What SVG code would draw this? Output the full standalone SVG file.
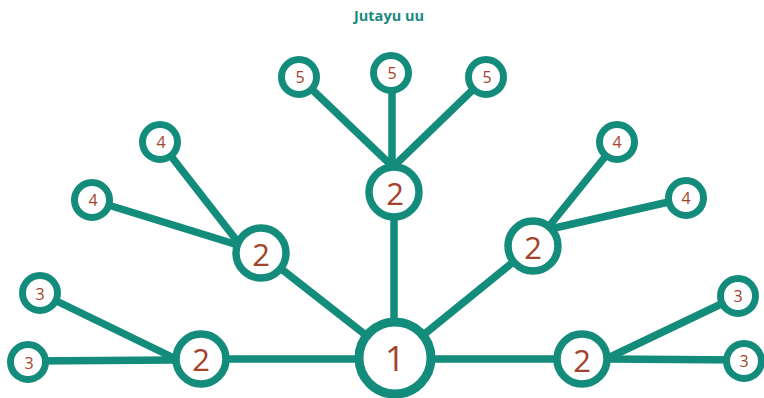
<svg xmlns="http://www.w3.org/2000/svg" width="764" height="398" viewBox="0 0 764 398">
<style>
.e{stroke:#138c7c;stroke-width:7.5;stroke-linecap:round;fill:none}
.n{fill:#fff;stroke:#138c7c}
.s{stroke-width:7}
.m{stroke-width:7.5}
.b{stroke-width:9}
.t{font-family:"Open Sans","Noto Sans",sans-serif;fill:#a4432b;text-anchor:middle;dominant-baseline:central}
.title{font-family:"Open Sans","Noto Sans",sans-serif;font-weight:bold;font-size:14.5px;fill:#1a8a80;text-anchor:middle}
</style>
<rect width="764" height="398" fill="#fff"/>
<text class="title" x="389" y="21">Jutayu uu</text>
<g id="connectors">
<line class="e" x1="395" y1="359" x2="201" y2="359"/>
<line class="e" x1="395" y1="359" x2="582" y2="359"/>
<line class="e" x1="395" y1="358" x2="261" y2="253"/>
<line class="e" x1="394" y1="358" x2="394" y2="192"/>
<line class="e" x1="395" y1="358" x2="533" y2="246"/>
<line class="e" x1="40" y1="293" x2="176" y2="359"/>
<line class="e" x1="28" y1="361" x2="176" y2="360"/>
<line class="e" x1="160" y1="142" x2="241" y2="246"/>
<line class="e" x1="92" y1="200" x2="241" y2="246"/>
<line class="e" x1="299" y1="77" x2="392" y2="166"/>
<line class="e" x1="392" y1="73" x2="392" y2="166"/>
<line class="e" x1="486" y1="77" x2="394" y2="166"/>
<line class="e" x1="617" y1="142" x2="546" y2="230"/>
<line class="e" x1="686" y1="198" x2="546" y2="230"/>
<line class="e" x1="738" y1="296" x2="608" y2="358"/>
<line class="e" x1="744" y1="360" x2="608" y2="359"/>
</g>
<g id="n1"><circle class="n b" cx="395" cy="358" r="36"/><text class="t" x="395" y="357" font-size="35">1</text></g>
<g id="n2a"><circle class="n m" cx="201" cy="359" r="25"/><text class="t" x="201" y="359" font-size="31">2</text></g>
<g id="n2b"><circle class="n m" cx="261" cy="253" r="25"/><text class="t" x="261" y="254" font-size="31">2</text></g>
<g id="n2c"><circle class="n m" cx="394" cy="192" r="25"/><text class="t" x="395" y="193" font-size="31">2</text></g>
<g id="n2d"><circle class="n m" cx="533" cy="246" r="25"/><text class="t" x="533" y="247" font-size="31">2</text></g>
<g id="n2e"><circle class="n m" cx="582" cy="359" r="25"/><text class="t" x="582" y="360" font-size="31">2</text></g>
<g id="n3a"><circle class="n s" cx="40" cy="293" r="17.5"/><text class="t" x="40" y="294" font-size="16">3</text></g>
<g id="n3b"><circle class="n s" cx="28" cy="362" r="17.5"/><text class="t" x="29" y="363" font-size="16">3</text></g>
<g id="n4a"><circle class="n s" cx="160" cy="142" r="17.5"/><text class="t" x="161" y="142" font-size="16">4</text></g>
<g id="n4b"><circle class="n s" cx="92" cy="200" r="17.5"/><text class="t" x="93" y="200" font-size="16">4</text></g>
<g id="n5a"><circle class="n s" cx="299" cy="77" r="17.5"/><text class="t" x="300" y="77" font-size="16">5</text></g>
<g id="n5b"><circle class="n s" cx="391" cy="73" r="17.5"/><text class="t" x="392" y="73" font-size="16">5</text></g>
<g id="n5c"><circle class="n s" cx="486" cy="77" r="17.5"/><text class="t" x="487" y="77" font-size="16">5</text></g>
<g id="n4c"><circle class="n s" cx="617" cy="142" r="17.5"/><text class="t" x="617" y="142" font-size="16">4</text></g>
<g id="n4d"><circle class="n s" cx="686" cy="198" r="17.5"/><text class="t" x="686" y="198" font-size="16">4</text></g>
<g id="n3c"><circle class="n s" cx="738" cy="296" r="17.5"/><text class="t" x="738" y="296" font-size="16">3</text></g>
<g id="n3d"><circle class="n s" cx="744" cy="361" r="17.5"/><text class="t" x="744" y="361" font-size="16">3</text></g>
</svg>
